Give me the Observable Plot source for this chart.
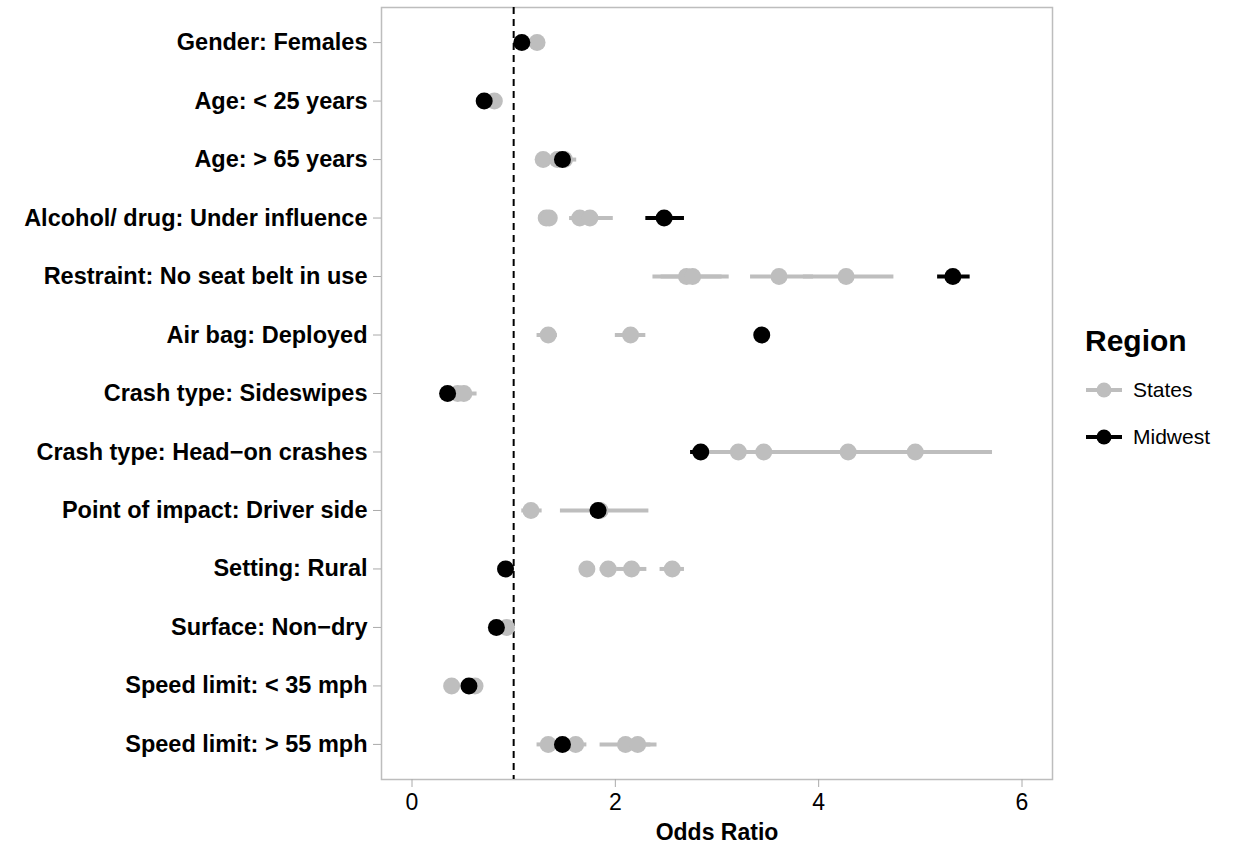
<!DOCTYPE html>
<html>
<head>
<meta charset="utf-8">
<script src="https://cdn.jsdelivr.net/npm/d3@7"></script>
<script src="https://cdn.jsdelivr.net/npm/@observablehq/plot@0.6"></script>
<style>
  body { margin: 0; background: #fff; font-family: "Liberation Sans", Arial, sans-serif; }
  #wrap { position: relative; width: 1235px; height: 843px; }
  #legend { position: absolute; left: 1085px; top: 323px; font-family: "Liberation Sans", Arial, sans-serif; }
  #legend .title { font-weight: bold; font-size: 30px; line-height: 36px; margin-bottom: 7px; }
  #legend .row { display: flex; align-items: center; height: 47px; font-size: 21px; }
  #legend svg { margin-right: 10px; }
</style>
</head>
<body>
<div id="wrap"><div id="chart"></div><div id="legend"></div></div>
<script>
// Factor categories (top to bottom)
const factors = [
  "Gender: Females",
  "Age: < 25 years",
  "Age: > 65 years",
  "Alcohol/ drug: Under influence",
  "Restraint: No seat belt in use",
  "Air bag: Deployed",
  "Crash type: Sideswipes",
  "Crash type: Head\u2212on crashes",
  "Point of impact: Driver side",
  "Setting: Rural",
  "Surface: Non\u2212dry",
  "Speed limit: < 35 mph",
  "Speed limit: > 55 mph"
];

// Individual states (grey)
const statesFactor = [
  0,
  1,
  2, 2, 2,
  3, 3, 3, 3,
  4, 4, 4, 4,
  5, 5,
  6, 6,
  7, 7, 7, 7,
  8, 8,
  9, 9, 9, 9,
  10,
  11, 11,
  12, 12, 12, 12
];
const statesOR = [
  1.23,
  0.81,
  1.29, 1.43, 1.50,
  1.32, 1.35, 1.65, 1.75,
  2.70, 2.76, 3.61, 4.27,
  1.34, 2.15,
  0.45, 0.51,
  3.21, 3.46, 4.29, 4.95,
  1.17, 1.85,
  1.72, 1.93, 2.16, 2.56,
  0.93,
  0.39, 0.62,
  1.34, 1.61, 2.10, 2.22
];
const statesLo = [
  1.18,
  0.77,
  1.24, 1.36, 1.40,
  1.28, 1.30, 1.55, 1.58,
  2.37, 2.45, 3.33, 3.85,
  1.23, 2.00,
  0.40, 0.42,
  2.80, 3.05, 3.60, 4.25,
  1.08, 1.46,
  1.65, 1.85, 2.02, 2.44,
  0.90,
  0.35, 0.58,
  1.23, 1.50, 1.85, 2.05
];
const statesHi = [
  1.28,
  0.85,
  1.34, 1.50, 1.62,
  1.36, 1.40, 1.76, 1.98,
  3.05, 3.12, 3.95, 4.74,
  1.43, 2.30,
  0.50, 0.64,
  3.65, 3.95, 5.00, 5.71,
  1.28, 2.33,
  1.80, 2.02, 2.31, 2.68,
  0.97,
  0.43, 0.66,
  1.45, 1.72, 2.35, 2.41
];

// Midwest (black), one per factor
const midwestOR = [1.08, 0.71, 1.48, 2.48, 5.32, 3.44, 0.35, 2.84, 1.83, 0.92, 0.83, 0.56, 1.48];
const midwestLo = [1.06, 0.69, 1.45, 2.30, 5.17, 3.40, 0.33, 2.74, 1.80, 0.90, 0.81, 0.54, 1.45];
const midwestHi = [1.10, 0.73, 1.51, 2.68, 5.49, 3.48, 0.37, 2.92, 1.86, 0.94, 0.85, 0.58, 1.51];

const regions = ["States", "Midwest"];
const regionColors = ["#bebebe", "#000000"];
const xTicks = [0, 2, 4, 6];
const refLine = [1];

const states = statesFactor.map((f, i) => ({factor: factors[f], or: statesOR[i], lo: statesLo[i], hi: statesHi[i]}));
const midwest = factors.map((f, i) => ({factor: f, or: midwestOR[i], lo: midwestLo[i], hi: midwestHi[i]}));

const chart = Plot.plot({
  width: 1235,
  height: 843,
  marginLeft: 381,
  marginRight: 183,
  marginTop: 7,
  marginBottom: 64,
  style: {fontFamily: "'Liberation Sans', Arial, sans-serif", background: "#fff", color: "#000"},
  x: {domain: [-0.3, 6.3]},
  y: {type: "point", domain: factors, padding: 0.6, round: false},
  marks: [
    Plot.frame({stroke: "#bdbdbd", strokeWidth: 1.5}),
    Plot.ruleX(refLine, {stroke: "#000", strokeWidth: 2, strokeDasharray: "7,5"}),
    Plot.ruleY(states, {y: "factor", x1: "lo", x2: "hi", stroke: regionColors[0], strokeWidth: 4}),
    Plot.dot(states, {x: "or", y: "factor", r: 8.5, fill: regionColors[0]}),
    Plot.ruleY(midwest, {y: "factor", x1: "lo", x2: "hi", stroke: regionColors[1], strokeWidth: 4}),
    Plot.dot(midwest, {x: "or", y: "factor", r: 8.5, fill: regionColors[1]}),
    Plot.axisY({label: null, fontSize: 23.5, fontWeight: "bold", tickSize: 8, tickPadding: 6, stroke: "#aaa", fill: "#000"}),
    Plot.axisX({ticks: xTicks, tickFormat: d3.format("d"), label: null, fontSize: 23, tickSize: 8, tickPadding: 6, stroke: "#aaa", fill: "#000"}),
    Plot.axisX({ticks: [], label: "Odds Ratio", labelAnchor: "center", labelArrow: "none", labelOffset: 60, fontSize: 23, fontWeight: "bold", fill: "#000"})
  ]
});
document.getElementById("chart").appendChild(chart);

// Legend
const legend = document.getElementById("legend");
const t = document.createElement("div");
t.className = "title";
t.textContent = "Region";
legend.appendChild(t);
regions.forEach((r, i) => {
  const row = document.createElement("div");
  row.className = "row";
  row.innerHTML = `<svg width="38" height="20"><line x1="1" x2="37" y1="10" y2="10" stroke="${regionColors[i]}" stroke-width="4"/><circle cx="19" cy="10" r="7.5" fill="${regionColors[i]}"/></svg><span>${r}</span>`;
  legend.appendChild(row);
});
</script>
</body>
</html>
